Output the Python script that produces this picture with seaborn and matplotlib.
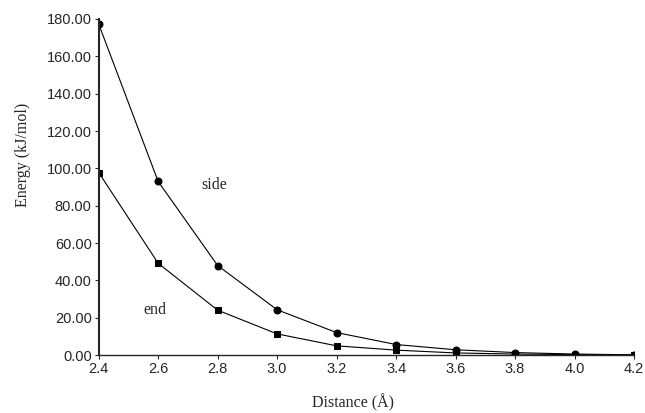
import numpy as np
import pandas as pd
import matplotlib
matplotlib.use("Agg")
import matplotlib.pyplot as plt
import seaborn as sns

# --- data ---
distance = [2.4, 2.6, 2.8, 3.0, 3.2, 3.4, 3.6, 3.8, 4.0, 4.2]
side_energy = [177.3, 93.0, 48.0, 24.3, 12.1, 5.7, 2.9, 1.4, 0.6, 0.2]
end_energy = [97.8, 49.2, 24.1, 11.4, 5.0, 2.7, 1.2, 0.6, 0.3, 0.1]
y_ticks = [0, 20, 40, 60, 80, 100, 120, 140, 160, 180]
x_ticks = [2.4, 2.6, 2.8, 3.0, 3.2, 3.4, 3.6, 3.8, 4.0, 4.2]

sns.set_style("ticks")
plt.rcParams["font.family"] = ["Liberation Sans", "DejaVu Sans"]

df = pd.DataFrame({
    "distance": distance * 2,
    "energy": side_energy + end_energy,
    "orient": ["side"] * len(distance) + ["end"] * len(distance),
})

fig = plt.figure(figsize=(6.45, 4.13), dpi=100)
ax = fig.add_axes([0.153, 0.140, 0.830, 0.814])

sns.lineplot(data=df, x="distance", y="energy", style="orient",
             markers={"side": "o", "end": "s"}, dashes=False,
             color="black", linewidth=0.8, markersize=5,
             markeredgecolor="black", legend=False, ax=ax)

ax.set_xlim(2.4, 4.2)
ax.set_ylim(0, 180)
ax.set_xticks(x_ticks)
ax.set_xticklabels([f"{v:.1f}" for v in x_ticks], fontsize=10.5)
ax.set_yticks(y_ticks)
ax.set_yticklabels([f"{v:.2f}" for v in y_ticks], fontsize=10.5)
ax.tick_params(direction="out", length=3, width=0.8, pad=2)
for s in ["top", "right"]:
    ax.spines[s].set_visible(False)
ax.spines["left"].set_linewidth(1.5)
ax.spines["bottom"].set_linewidth(1.0)
ax.margins(0)

serif = ["Liberation Serif", "DejaVu Serif"]
ax.set_xlabel("Distance (Å)", fontsize=11.5, family=serif)
ax.xaxis.set_label_coords(0.475, -0.115)
ax.set_ylabel("Energy (kJ/mol)", fontsize=11.5, family=serif)
ax.yaxis.set_label_coords(-0.127, 0.595)
ax.text(2.787, 91, "side", fontsize=11.5, family=serif, ha="center", va="center")
ax.text(2.589, 24, "end", fontsize=11.5, family=serif, ha="center", va="center")

plt.savefig("out.png", dpi=100)
